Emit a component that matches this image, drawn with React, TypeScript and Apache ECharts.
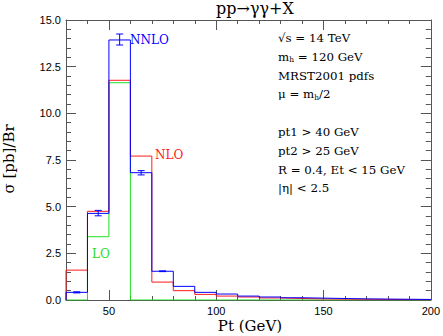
import React, { useEffect, useRef } from 'react';
import * as echarts from 'echarts';

const binEdges = [30, 40, 50, 60, 70, 80, 90, 100, 110, 120, 130, 140, 150, 160, 170, 180, 190, 200];
const loValues = [0, 3.39, 11.64, 0, 0, 0, 0, 0, 0, 0, 0, 0, 0, 0, 0, 0, 0];
const nloValues = [1.6, 4.75, 11.77, 7.71, 0.96, 0.5, 0.3, 0.21, 0.16, 0.11, 0.08, 0.06, 0.05, 0.04, 0.03, 0.02, 0.02];
const nnloValues = [0.41, 4.64, 13.93, 6.82, 1.54, 0.73, 0.41, 0.32, 0.21, 0.16, 0.12, 0.1, 0.08, 0.06, 0.05, 0.04, 0.03];
const errX = [35, 45, 55, 65, 75];
const errLow = [0.38, 4.51, 13.66, 6.7, 1.52];
const errHigh = [0.44, 4.8, 14.25, 6.93, 1.56];
const xLabelValues = [50, 100, 150, 200];
const xMajorTicks = [50, 100, 150];
const yLabelValues = [0, 2.5, 5, 7.5, 10, 12.5, 15];
const infoLines = [
  '{t|√s = 14 TeV}',
  '{t|m}{s|h}{t| = 120 GeV}',
  '{t|MRST2001 pdfs}',
  '{t|μ = m}{s|h}{t|/2}',
  '',
  '{t|pt1 > 40 GeV}',
  '{t|pt2 > 25 GeV}',
  '{t|R = 0.4, Et < 15 GeV}',
  '{t||η| < 2.5}',
];

const BLUE = '#0000ff';
const RED = '#ff1a1a';
const GREEN = '#1ee01e';
const AXIS = '#555555';
const SERIF = '"DejaVu Serif", serif';
const SANS = '"Liberation Sans", Arial, sans-serif';

function stepData(vals: number[]) {
  const d: number[][] = [[binEdges[0], 0]];
  vals.forEach((v, i) => d.push([binEdges[i], v]));
  d.push([binEdges[binEdges.length - 1], vals[vals.length - 1]]);
  return d;
}

export default function App() {
  const ref = useRef<HTMLDivElement>(null);
  useEffect(() => {
    if (!ref.current) return;
    const chart = echarts.init(ref.current, undefined, { renderer: 'svg' });
    const baseX = {
      type: 'value',
      min: 30,
      max: 200,
      splitLine: { show: false },
      axisLine: { show: true, onZero: false, lineStyle: { color: AXIS, width: 1 } },
    };
    const baseY = {
      type: 'value',
      min: 0,
      max: 15,
      splitLine: { show: false },
      axisLine: { show: true, onZero: false, lineStyle: { color: AXIS, width: 1 } },
    };
    const option: any = {
      animation: false,
      grid: { left: 66, right: 9, top: 20, bottom: 36, containLabel: false },
      xAxis: [
        {
          ...baseX,
          position: 'bottom',
          interval: 10,
          axisTick: { inside: true, length: 4, lineStyle: { color: AXIS } },
          axisLabel: {
            customValues: xLabelValues,
            color: '#000',
            fontSize: 11,
            fontFamily: SANS,
            margin: 5,
          },
        },
        {
          ...baseX,
          position: 'bottom',
          axisLine: { show: false, onZero: false },
          axisTick: { inside: true, length: 10, customValues: xMajorTicks, lineStyle: { color: AXIS } },
          axisLabel: { show: false },
        },
        {
          ...baseX,
          position: 'top',
          interval: 10,
          axisTick: { inside: true, length: 4, lineStyle: { color: AXIS } },
          axisLabel: { show: false },
        },
        {
          ...baseX,
          position: 'top',
          axisLine: { show: false, onZero: false },
          axisTick: { inside: true, length: 10, customValues: xMajorTicks, lineStyle: { color: AXIS } },
          axisLabel: { show: false },
        },
      ],
      yAxis: [
        {
          ...baseY,
          position: 'left',
          interval: 0.5,
          axisTick: { inside: true, length: 5, lineStyle: { color: AXIS } },
          axisLabel: {
            customValues: yLabelValues,
            formatter: (v: number) => v.toFixed(1),
            color: '#000',
            fontSize: 11,
            fontFamily: SANS,
            margin: 5,
          },
        },
        {
          ...baseY,
          position: 'left',
          interval: 2.5,
          axisLine: { show: false, onZero: false },
          axisTick: { inside: true, length: 10, lineStyle: { color: AXIS } },
          axisLabel: { show: false },
        },
        {
          ...baseY,
          position: 'right',
          interval: 0.5,
          axisTick: { inside: true, length: 5, lineStyle: { color: AXIS } },
          axisLabel: { show: false },
        },
        {
          ...baseY,
          position: 'right',
          interval: 2.5,
          axisLine: { show: false, onZero: false },
          axisTick: { inside: true, length: 10, lineStyle: { color: AXIS } },
          axisLabel: { show: false },
        },
      ],
      series: [
        {
          name: 'LO',
          type: 'line',
          step: 'end',
          data: stepData(loValues),
          showSymbol: false,
          lineStyle: { color: GREEN, width: 1 },
          z: 3,
        },
        {
          name: 'NLO',
          type: 'line',
          step: 'end',
          data: stepData(nloValues),
          showSymbol: false,
          lineStyle: { color: RED, width: 1 },
          z: 4,
        },
        {
          name: 'NNLO',
          type: 'line',
          step: 'end',
          data: stepData(nnloValues),
          showSymbol: false,
          lineStyle: { color: BLUE, width: 1 },
          z: 5,
        },
        {
          name: 'NNLO err',
          type: 'custom',
          z: 6,
          data: errX.map((x, i) => [x, errLow[i], errHigh[i]]),
          encode: { x: 0, y: [1, 2] },
          renderItem: (params: any, api: any) => {
            const x = api.value(0);
            const p1 = api.coord([x, api.value(1)]);
            const p2 = api.coord([x, api.value(2)]);
            const h = 3.5;
            const style = { stroke: BLUE, lineWidth: 1 };
            return {
              type: 'group',
              children: [
                { type: 'line', shape: { x1: p1[0], y1: p1[1], x2: p2[0], y2: p2[1] }, style },
                { type: 'line', shape: { x1: p1[0] - h, y1: p1[1], x2: p1[0] + h, y2: p1[1] }, style },
                { type: 'line', shape: { x1: p2[0] - h, y1: p2[1], x2: p2[0] + h, y2: p2[1] }, style },
              ],
            };
          },
        },
      ],
      graphic: [
        {
          type: 'text',
          x: 255,
          y: 8,
          style: { text: 'pp→γγ+X', fill: '#000', font: `16px ${SERIF}`, textAlign: 'center', textVerticalAlign: 'middle' },
        },
        {
          type: 'text',
          x: 250,
          y: 326,
          style: { text: 'Pt (GeV)', fill: '#000', font: `15px ${SERIF}`, textAlign: 'center', textVerticalAlign: 'middle' },
        },
        {
          type: 'text',
          x: 9,
          y: 159,
          rotation: Math.PI / 2,
          style: { text: 'σ [pb]/Br', fill: '#000', font: `15px ${SERIF}`, textAlign: 'center', textVerticalAlign: 'middle' },
        },
        {
          type: 'text',
          x: 130,
          y: 40,
          style: { text: 'NNLO', fill: BLUE, font: `12px ${SERIF}`, textAlign: 'left', textVerticalAlign: 'middle' },
        },
        {
          type: 'text',
          x: 155,
          y: 155,
          style: { text: 'NLO', fill: RED, font: `12px ${SERIF}`, textAlign: 'left', textVerticalAlign: 'middle' },
        },
        {
          type: 'text',
          x: 92,
          y: 254,
          style: { text: 'LO', fill: GREEN, font: `12px ${SERIF}`, textAlign: 'left', textVerticalAlign: 'middle' },
        },
        ...infoLines.map((line, i) => ({
          type: 'text',
          x: 278,
          y: 38 + i * 18.8,
          style: {
            text: line,
            fill: '#000',
            textAlign: 'left',
            textVerticalAlign: 'middle',
            rich: {
              t: { fontSize: 11.8, fontFamily: SERIF, lineHeight: 14, fill: '#000' },
              s: { fontSize: 7.5, fontFamily: SERIF, lineHeight: 7, verticalAlign: 'bottom', fill: '#000' },
            },
          },
        })),
      ],
    };
    chart.setOption(option);
    return () => chart.dispose();
  }, []);
  return (
    <div
      ref={ref}
      style={{ position: 'absolute', left: 0, top: 0, width: 443, height: 336, background: '#fff' }}
    />
  );
}
